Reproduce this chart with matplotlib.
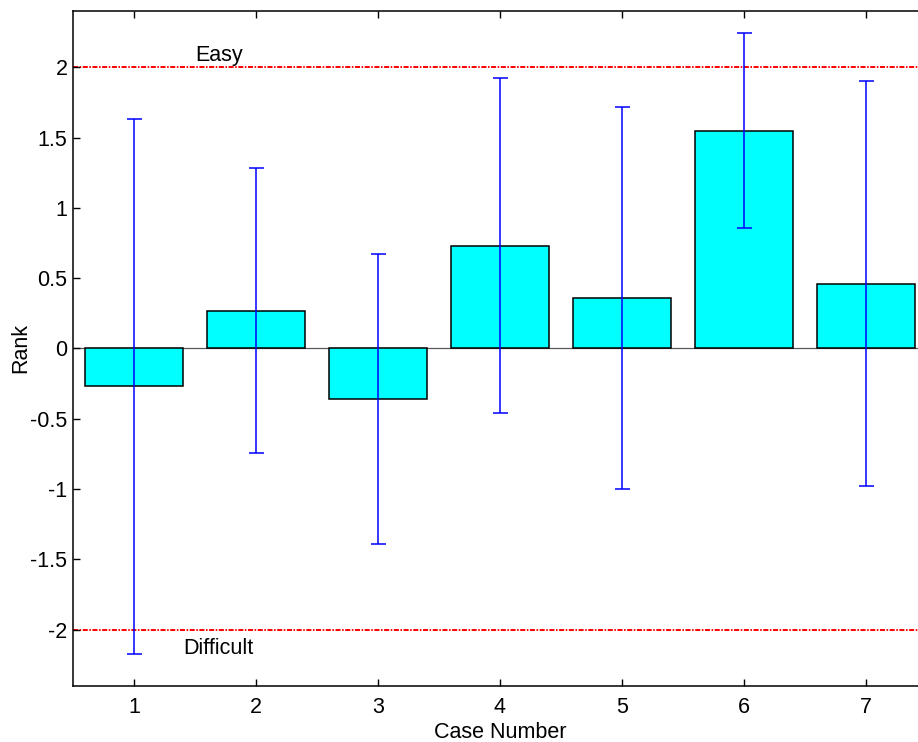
import matplotlib
matplotlib.use("Agg")
import matplotlib.pyplot as plt

plt.rcParams['font.family'] = ['Liberation Sans', 'DejaVu Sans']

# Mean rank per case with its spread
cases = [1, 2, 3, 4, 5, 6, 7]
mean_rank = [-0.27, 0.27, -0.36, 0.73, 0.36, 1.55, 0.46]
rank_err = [1.90, 1.01, 1.03, 1.19, 1.36, 0.69, 1.44]

y_ticks = [-2, -1.5, -1, -0.5, 0, 0.5, 1, 1.5, 2]
y_tick_labels = ['-2', '-1.5', '-1', '-0.5', '0', '0.5', '1', '1.5', '2']

easy_level = 2
difficult_level = -2

fig = plt.figure(figsize=(9.18, 7.42), dpi=100)
ax = fig.add_axes([0.0795, 0.0755, 0.9303, 0.9097])

ax.bar(cases, mean_rank, width=0.8, color='#00ffff', edgecolor='black',
       linewidth=1.1, zorder=2)
ax.axhline(0, color='0.35', lw=0.9, zorder=1)
ax.errorbar(cases, mean_rank, yerr=rank_err, fmt='none', ecolor='#0000ff',
            elinewidth=1.1, capsize=5.4, capthick=1.1, zorder=3)

# dash-dot pattern, expressed in multiples of the line width
dashdot = (0, (2.6, 0.8, 0.8, 0.8))
for lvl in (easy_level, difficult_level):
    ax.axhline(lvl, color='#ff0000', lw=1.4, linestyle=dashdot, zorder=1)

ax.text(1.5, 2.08, 'Easy', fontsize=15.5, ha='left', va='center')
ax.text(1.4, -2.13, 'Difficult', fontsize=15.5, ha='left', va='center')

ax.set_xlim(0.5, 7.5)
ax.set_ylim(-2.4, 2.4)
ax.set_xticks(cases)
ax.set_xticklabels([str(c) for c in cases])
ax.set_yticks(y_ticks)
ax.set_yticklabels(y_tick_labels)

ax.tick_params(axis='both', direction='in', length=5, width=1.0,
               labelsize=15.5, top=True, right=False)
ax.tick_params(axis='x', pad=8)
ax.tick_params(axis='y', pad=4)
for side in ('left', 'bottom', 'top'):
    ax.spines[side].set_linewidth(1.1)
ax.spines['right'].set_visible(False)

ax.set_xlabel('Case Number', fontsize=15.5, labelpad=3)
ax.set_ylabel('Rank', fontsize=15.5, labelpad=-1)

fig.savefig('out.png', dpi=100)
